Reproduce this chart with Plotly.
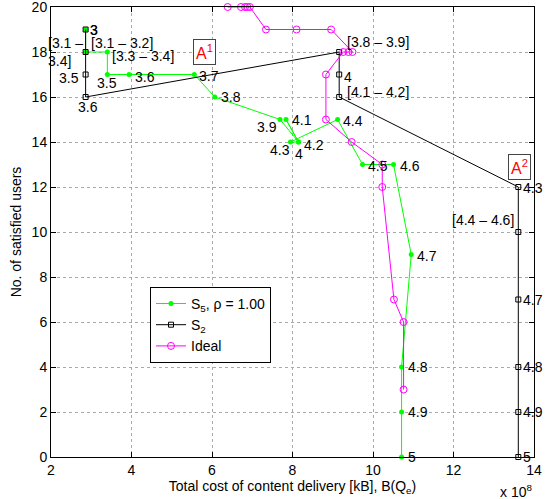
import plotly.graph_objects as go

# ---------------- data (cost in units of 1e8 kB) ----------------
s5_cost = [2.86, 2.86, 3.40, 3.40, 3.94, 5.56, 6.07, 7.69, 8.15, 7.84, 8.15, 7.95,
           9.12, 9.74, 10.51, 10.95, 10.71, 10.71, 10.71]
s5_users = [19, 18, 18, 17, 17, 17, 16, 15, 14, 15, 14, 14, 15, 13, 13, 9, 4, 2, 0]
s5_labels = ["3", "[3.1 – 3.2]", "[3.3 – 3.4]", "3.5", "3.6", "3.7", "3.8", "3.9", "4",
             "4.1", "4.2", "4.3", "4.4", "4.5", "4.6", "4.7", "4.8", "4.9", "5"]

s2_cost = [2.86, 2.86, 2.86, 2.86, 9.16, 9.16, 9.16, 13.61, 13.61, 13.61, 13.61, 13.61, 13.61]
s2_users = [19, 18, 17, 16, 18, 17, 16, 12, 10, 7, 4, 2, 0]
s2_labels = ["3", "[3.1 –<br>3.4]", "3.5", "3.6", "[3.8 – 3.9]", "4", "[4.1 – 4.2]",
             "4.3", "[4.4 – 4.6]", "4.7", "4.8", "4.9", "5"]

ideal_cost = [6.39, 6.72, 6.82, 6.88, 6.94, 7.34, 8.10, 8.96, 9.49, 9.39, 9.26, 8.83,
              8.83, 9.47, 10.23, 10.23, 10.52, 10.76, 10.76]
ideal_users = [20, 20, 20, 20, 20, 19, 19, 19, 18, 18, 18, 17, 15, 14, 13, 12, 7, 6, 3]

x_ticks = [2, 4, 6, 8, 10, 12, 14]
y_ticks = [0, 2, 4, 6, 8, 10, 12, 14, 16, 18, 20]

region_labels = ["A<sup>1</sup>", "A<sup>2</sup>"]
region_cost = [5.81, 13.64]
region_users = [18.0, 12.9]

# ---------------- label placement styles (anchor, xshift, yshift) ----------------
s5_label_style = [("left", 2, 0), ("left", 3, 9), ("left", 3, -4), ("center", 0, -8),
                  ("left", 4, -2), ("left", 3, -1), ("left", 4, 0), ("right", -1, -7),
                  ("center", 0, -12), ("left", 4, 0), ("left", 3, -3), ("right", 2, -8),
                  ("left", 3, -1), ("left", 3, -1), ("left", 4, -1), ("left", 4, -1),
                  ("left", 4, 0), ("left", 4, 0), ("left", 4, 0)]
s2_label_style = [("left", 2, 0), ("right", -1, 0), ("right", -5, -3), ("center", 2, -10),
                  ("left", 6, 10), ("left", 3, -2), ("left", 6, 5), ("left", 3, -1),
                  ("right", -2, 12), ("left", 3, 0), ("left", 3, 0), ("left", 3, 0),
                  ("left", 3, 0)]

FONT = "Liberation Sans, Arial, Helvetica, sans-serif"

fig = go.Figure()
fig.add_trace(go.Scatter(
    x=s5_cost, y=s5_users, mode="lines+markers", name="S<sub>5</sub>, ρ = 1.00",
    line=dict(color="#00ff00", width=1),
    marker=dict(symbol="circle", size=5, color="#00ff00"), cliponaxis=False))
fig.add_trace(go.Scatter(
    x=s2_cost, y=s2_users, mode="lines+markers", name="S<sub>2</sub>",
    line=dict(color="black", width=1),
    marker=dict(symbol="square-open", size=5, color="black", line=dict(width=1)),
    cliponaxis=False))
fig.add_trace(go.Scatter(
    x=ideal_cost, y=ideal_users, mode="lines+markers", name="Ideal",
    line=dict(color="#ff00ff", width=1),
    marker=dict(symbol="circle-open", size=7, color="#ff00ff", line=dict(width=1)),
    cliponaxis=False))

for xs, ys, labels, styles in [(s5_cost, s5_users, s5_labels, s5_label_style),
                               (s2_cost, s2_users, s2_labels, s2_label_style)]:
    for x, y, t, (xa, dx, dy) in zip(xs, ys, labels, styles):
        fig.add_annotation(x=x, y=y, text=t, showarrow=False, xanchor=xa,
                           yanchor="middle", xshift=dx, yshift=dy, align="left",
                           font=dict(size=14, color="black", family=FONT))

for x, y, t in zip(region_cost, region_users, region_labels):
    fig.add_annotation(x=x, y=y, text=t, showarrow=False, xanchor="center",
                       yanchor="middle", font=dict(size=16, color="red", family=FONT),
                       bordercolor="#444444", borderwidth=1, borderpad=2,
                       bgcolor="white")

fig.add_annotation(xref="paper", yref="paper", x=1.0, y=-0.075, xanchor="right",
                   yanchor="middle", text="x 10<sup>8</sup>", showarrow=False,
                   font=dict(size=14, color="black", family=FONT))

axis_common = dict(showline=True, linecolor="black", linewidth=1, mirror="ticks",
                   ticks="inside", ticklen=5, tickcolor="black", showgrid=True,
                   gridcolor="#aaaaaa", griddash="dot", gridwidth=1, zeroline=False,
                   ticklabeloverflow="allow", automargin=False,
                   tickfont=dict(size=14, color="black", family=FONT))

fig.update_layout(
    width=555, height=499,
    margin=dict(l=51, r=21, t=7, b=42),
    paper_bgcolor="white", plot_bgcolor="white",
    font=dict(family=FONT, size=14, color="black"),
    xaxis=dict(range=[2, 14], tickvals=x_ticks,
               title=dict(text="Total cost of content delivery [kB], B(Q<sub>e</sub>)",
                          standoff=2, font=dict(size=14)),
               **axis_common),
    yaxis=dict(range=[0, 20], tickvals=y_ticks,
               title=dict(text="No. of satisfied users", standoff=6, font=dict(size=14)),
               **axis_common),
    legend=dict(x=0.205, y=0.378, xanchor="left", yanchor="top", bgcolor="white",
                bordercolor="black", borderwidth=1, font=dict(size=14, family=FONT)),
    showlegend=True,
)

fig.write_html("out.html")
